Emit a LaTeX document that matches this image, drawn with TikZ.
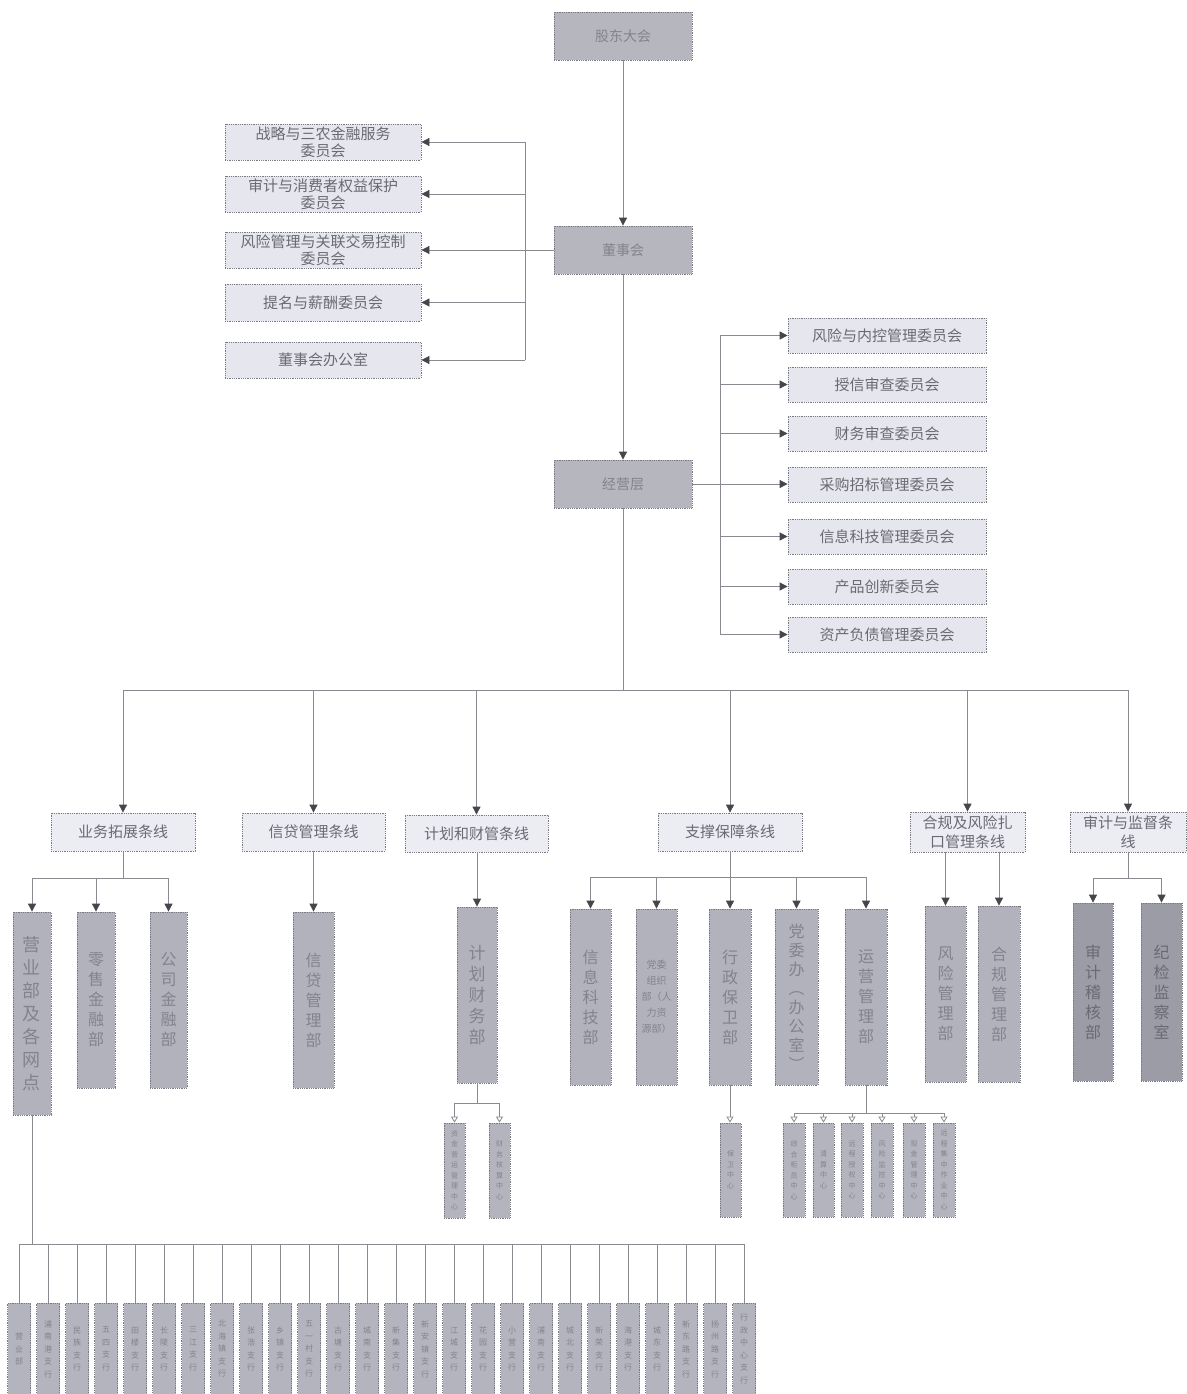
\documentclass[tikz,border=0pt]{standalone}
\usepackage{fontspec}
\setmainfont{Noto Sans CJK SC}
\usetikzlibrary{arrows.meta}
\definecolor{topfill}{HTML}{B6B6BE}
\definecolor{comfill}{HTML}{E6E6EE}
\definecolor{linefill}{HTML}{ECECF3}
\definecolor{deptfill}{HTML}{B2B2BC}
\definecolor{audfill}{HTML}{9C9CA6}
\definecolor{smallfill}{HTML}{B4B4BE}
\definecolor{txt}{HTML}{6A6A74}
\definecolor{lighttxt}{HTML}{83838D}
\definecolor{bord}{HTML}{7A7A82}
\definecolor{conncol}{HTML}{8A8A90}
\definecolor{tipcol}{HTML}{45454B}
\newcommand\bx[7]{\node[#6, minimum width={#4pt-#2pt}, minimum height={#5pt-#3pt}] (#1) at ({(#2+#4)/2},{(#3+#5)/2}) {#7};}
\tikzset{
  base/.style={draw=bord, densely dotted, line width=0.8pt, inner sep=0pt, align=center, text=txt},
  topbox/.style={base, fill=topfill, text=lighttxt, font=\fontsize{14}{17}\selectfont},
  combox/.style={base, fill=comfill, font=\fontsize{15}{17}\selectfont},
  linebox/.style={base, fill=linefill, font=\fontsize{15}{19}\selectfont},
  deptbox/.style={base, fill=deptfill, text=lighttxt, font=\fontsize{16}{20}\selectfont},
  audbox/.style={deptbox, fill=audfill, text=txt},
  smallbox/.style={base, fill=smallfill, text=lighttxt, font=\fontsize{7}{10.5}\selectfont},
  branchbox/.style={base, fill=smallfill, text=lighttxt, font=\fontsize{8}{12.5}\selectfont},
  conn/.style={draw=conncol, line width=0.8pt},
  arr/.style={conn, -{Triangle[length=8pt,width=8pt,color=tipcol]}},
  harr/.style={conn, -{Triangle[open,length=6pt,width=7pt]}},
}
\begin{document}
\begin{tikzpicture}[x=1pt,y=-1pt]
\useasboundingbox[fill=white] (0,0) rectangle (1186,1394);
% top levels
\bx{gd}{554}{12}{692}{60}{topbox}{股东大会}
\bx{dsh}{554}{226}{692}{274}{topbox}{董事会}
\bx{jyc}{554}{460}{692}{508}{topbox}{经营层}
% board committees
\bx{c1}{225}{124}{421}{160}{combox}{战略与三农金融服务\\委员会}
\bx{c2}{225}{176}{421}{212}{combox}{审计与消费者权益保护\\委员会}
\bx{c3}{225}{232}{421}{268}{combox}{风险管理与关联交易控制\\委员会}
\bx{c4}{225}{284}{421}{321}{combox}{提名与薪酬委员会}
\bx{c5}{225}{342}{421}{378}{combox}{董事会办公室}
% management committees
\bx{r1}{788}{318}{986}{353}{combox}{风险与内控管理委员会}
\bx{r2}{788}{367}{986}{402}{combox}{授信审查委员会}
\bx{r3}{788}{416}{986}{451}{combox}{财务审查委员会}
\bx{r4}{788}{467}{986}{502}{combox}{采购招标管理委员会}
\bx{r5}{788}{519}{986}{554}{combox}{信息科技管理委员会}
\bx{r6}{788}{569}{986}{604}{combox}{产品创新委员会}
\bx{r7}{788}{617}{986}{652}{combox}{资产负债管理委员会}
% lines of business
\bx{l1}{51}{813}{195}{851}{linebox}{业务拓展条线}
\bx{l2}{242}{813}{385}{851}{linebox}{信贷管理条线}
\bx{l3}{405}{815}{548}{852}{linebox}{计划和财管条线}
\bx{l4}{658}{813}{802}{851}{linebox}{支撑保障条线}
\bx{l5}{910}{812}{1025}{852}{linebox}{合规及风险扎\\口管理条线}
\bx{l6}{1070}{812}{1186}{852}{linebox}{审计与监督条\\线}
% departments
\bx{d1}{13}{912}{51}{1115}{deptbox, font=\fontsize{18}{23}\selectfont}{营\\业\\部\\及\\各\\网\\点}
\bx{d2}{77}{912}{115}{1088}{deptbox}{零\\售\\金\\融\\部}
\bx{d3}{150}{912}{187}{1088}{deptbox}{公\\司\\金\\融\\部}
\bx{d4}{293}{912}{334}{1088}{deptbox}{信\\贷\\管\\理\\部}
\bx{d5}{457}{907}{497}{1083}{deptbox, font=\fontsize{17}{21}\selectfont}{计\\划\\财\\务\\部}
\bx{d6}{570}{909}{611}{1085}{deptbox}{信\\息\\科\\技\\部}
\bx{d7}{636}{909}{677}{1085}{deptbox, font=\fontsize{10}{16}\selectfont}{党委\\组织\\部（人\\力资\\源部）}
\bx{d8}{709}{909}{751}{1085}{deptbox}{行\\政\\保\\卫\\部}
\bx{d9}{775}{909}{818}{1085}{deptbox, font=\fontsize{16}{19}\selectfont}{党\\委\\办\\︵\\办\\公\\室\\︶}
\bx{d10}{845}{909}{887}{1085}{deptbox}{运\\营\\管\\理\\部}
\bx{d11}{925}{906}{966}{1082}{deptbox}{风\\险\\管\\理\\部}
\bx{d12}{978}{906}{1020}{1082}{deptbox}{合\\规\\管\\理\\部}
\bx{d13}{1073}{903}{1113}{1081}{audbox}{审\\计\\稽\\核\\部}
\bx{d14}{1141}{903}{1182}{1081}{audbox}{纪\\检\\监\\察\\室}
% centres
\bx{e1}{444}{1123}{465}{1218}{smallbox}{资\\金\\营\\运\\管\\理\\中\\心}
\bx{e2}{489}{1123}{510}{1218}{smallbox}{财\\务\\核\\算\\中\\心}
\bx{f1}{720}{1123}{741}{1217}{smallbox}{保\\卫\\中\\心}
\bx{g1}{783}{1123}{805}{1217}{smallbox}{综\\合\\柜\\员\\中\\心}
\bx{g2}{813}{1123}{834}{1217}{smallbox}{清\\算\\中\\心}
\bx{g3}{841}{1123}{863}{1217}{smallbox}{远\\程\\授\\权\\中\\心}
\bx{g4}{871}{1123}{893}{1217}{smallbox}{风\\险\\监\\控\\中\\心}
\bx{g5}{903}{1123}{925}{1217}{smallbox}{现\\金\\管\\理\\中\\心}
\bx{g6}{933}{1123}{955}{1217}{smallbox}{远\\程\\集\\中\\作\\业\\中\\心}
% branches
\foreach \i/\t in {1/{营\\业\\部},2/{浦\\南\\港\\支\\行},3/{民\\族\\支\\行},4/{五\\四\\支\\行},5/{田\\楼\\支\\行},6/{长\\陵\\支\\行},7/{三\\江\\支\\行},8/{北\\海\\镇\\支\\行},9/{张\\浩\\支\\行},10/{乡\\镇\\支\\行},11/{五\\一\\村\\支\\行},12/{古\\塘\\支\\行},13/{城\\南\\支\\行},14/{新\\集\\支\\行},15/{新\\安\\镇\\支\\行},16/{江\\城\\支\\行},17/{花\\园\\支\\行},18/{小\\营\\支\\行},19/{浦\\南\\支\\行},20/{城\\北\\支\\行},21/{新\\荣\\支\\行},22/{海\\港\\支\\行},23/{城\\东\\支\\行},24/{新\\东\\路\\支\\行},25/{扬\\州\\路\\支\\行},26/{行\\政\\中\\心\\支\\行}}{
  \pgfmathsetmacro\cx{19+29*(\i-1)}
  \node[branchbox, minimum width=23pt, minimum height=92pt] (h\i) at (\cx,1349) {\t};
}
% connectors: top
\draw[arr] (gd) -- (dsh);
\draw[arr] (dsh) -- (jyc);
\coordinate (lb) at (525,250);
\draw[conn] (dsh.west) -- (dsh.west -| lb);
\draw[conn] (c1.east -| lb) -- (c5.east -| lb);
\foreach \c in {c1,c2,c3,c4,c5} \draw[arr] (\c.east -| lb) -- (\c.east);
\coordinate (rb) at (720,484);
\draw[conn] (r1.west -| rb) -- (r7.west -| rb);
\foreach \r in {r1,r2,r3,r5,r6,r7} \draw[arr] (\r.west -| rb) -- (\r.west);
\draw[arr] (jyc.east) -- (jyc.east -| r4.west);
% main bus
\coordinate (bus) at (622,690);
\draw[conn] (jyc.south) -- (jyc.south |- bus);
\draw[conn] (l1.north |- bus) -- (l6.north |- bus);
\foreach \l in {l1,l2,l3,l4,l5,l6} \draw[arr] (\l.north |- bus) -- (\l.north);
% level 3
\coordinate (b1) at (0,878);
\draw[conn] (l1.south) -- (l1.south |- b1);
\draw[conn] (d1.north |- b1) -- (d3.north |- b1);
\foreach \d in {d1,d2,d3} \draw[arr] (\d.north |- b1) -- (\d.north);
\draw[arr] (l2.south -| d4.north) -- (d4.north);
\draw[arr] (l3.south -| d5.north) -- (d5.north);
\coordinate (b2) at (0,877);
\draw[conn] (l4.south) -- (l4.south |- b2);
\draw[conn] (d6.north |- b2) -- (d10.north |- b2);
\foreach \d in {d6,d7,d8,d9,d10} \draw[arr] (\d.north |- b2) -- (\d.north);
\draw[arr] (d11.north |- l5.south) -- (d11.north);
\draw[arr] (d12.north |- l5.south) -- (d12.north);
\coordinate (b3) at (0,878);
\draw[conn] (l6.south) -- (l6.south |- b3);
\draw[conn] (d13.north |- b3) -- (d14.north |- b3);
\foreach \d in {d13,d14} \draw[arr] (\d.north |- b3) -- (\d.north);
% level 4
\coordinate (b4) at (0,1103);
\draw[conn] (d5.south) -- (d5.south |- b4);
\draw[conn] (e1.north |- b4) -- (e2.north |- b4);
\foreach \e in {e1,e2} \draw[harr] (\e.north |- b4) -- (\e.north);
\draw[harr] (d8.south) -- (d8.south |- f1.north);
\coordinate (b5) at (0,1113);
\draw[conn] (d10.south) -- (d10.south |- b5);
\draw[conn] (g1.north |- b5) -- (g6.north |- b5);
\foreach \g in {g1,g2,g3,g4,g5,g6} \draw[harr] (\g.north |- b5) -- (\g.north);
% level 5
\coordinate (b6) at (0,1244);
\draw[conn] (d1.south) -- (d1.south |- b6);
\draw[conn] (h1.north |- b6) -- (h26.north |- b6);
\foreach \i in {1,...,26} \draw[conn] (h\i.north |- b6) -- (h\i.north);
\end{tikzpicture}
\end{document}
